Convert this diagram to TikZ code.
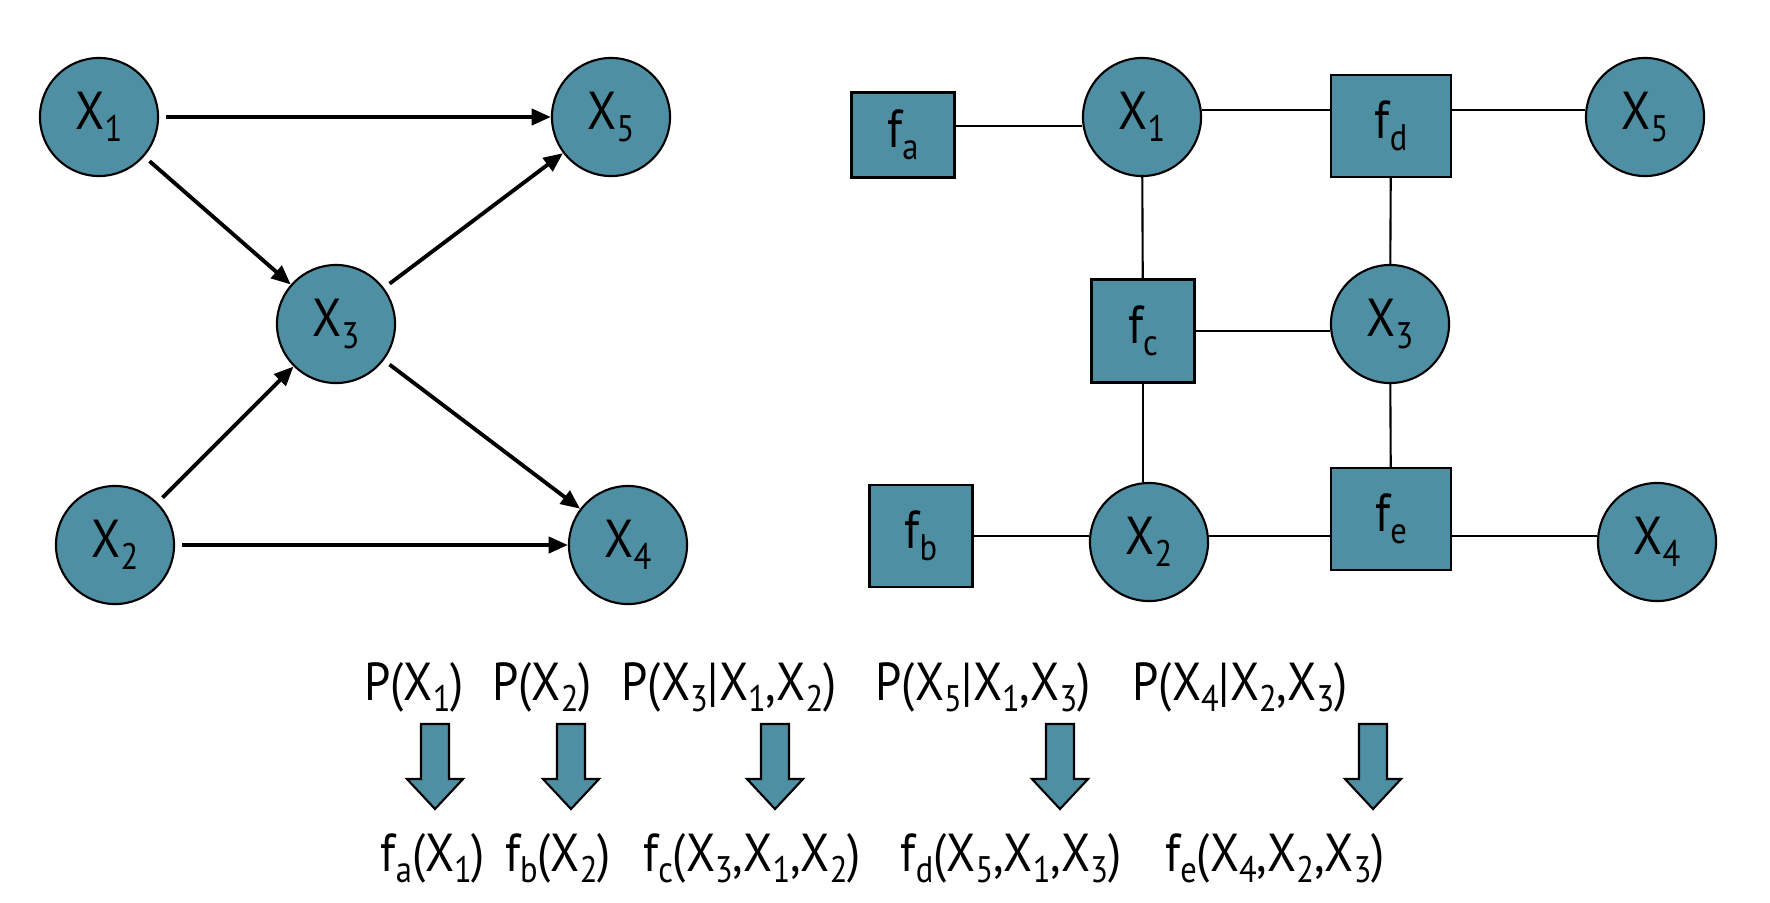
\documentclass[tikz,border=0pt]{standalone}
\usepackage{fontspec}
\setmainfont{PT Sans}[FakeStretch=0.88]
\usetikzlibrary{arrows.meta}
\definecolor{nodeblue}{RGB}{79,143,163}
\newcommand\subs[1]{\raisebox{-3.4pt}{\fontsize{10.5pt}{10pt}\selectfont #1}}
\begin{document}
\begin{tikzpicture}[x=0.01cm,y=-0.01cm,
  font=\fontsize{15.2pt}{17pt}\selectfont,
  var/.style={circle,draw=black,line width=0.6pt,fill=nodeblue,minimum size=1.18cm,inner sep=0pt},
  fac/.style={rectangle,draw=black,line width=0.6pt,fill=nodeblue,inner sep=0pt},
  arr/.style={line width=1.1pt,-{Triangle[length=5.5pt,width=4.6pt]},shorten <=2pt},
  edge/.style={line width=0.6pt},
  blockarr/.style={draw=black,line width=0.6pt,fill=nodeblue},
  lbl/.style={anchor=base,inner sep=0pt}]
\useasboundingbox (0,0) rectangle (1770,902);
% left: Bayesian network
\node[var] (L1) at (99,117) {X\subs{1}};
\node[var] (L5) at (611,117) {X\subs{5}};
\node[var] (L3) at (336,324) {X\subs{3}};
\node[var] (L2) at (115,545) {X\subs{2}};
\node[var] (L4) at (628,545) {X\subs{4}};
\draw[arr] (L1) -- (L5);
\draw[arr] (L1) -- (L3);
\draw[arr] (L2) -- (L3);
\draw[arr] (L3) -- (L5);
\draw[arr] (L3) -- (L4);
\draw[arr] (L2) -- (L4);
% right: factor graph
\node[var] (R1) at (1142,117) {X\subs{1}};
\node[var] (R5) at (1645,117) {X\subs{5}};
\node[var] (R3) at (1390,324) {X\subs{3}};
\node[var] (R2) at (1149,542) {X\subs{2}};
\node[var] (R4) at (1657,542) {X\subs{4}};
\node[fac,minimum width=1.03cm,minimum height=0.85cm] (fa) at (903,135) {f\subs{a}};
\node[fac,minimum width=1.20cm,minimum height=1.02cm] (fd) at (1391,126) {f\subs{d}};
\node[fac,minimum width=1.03cm,minimum height=1.03cm] (fc) at (1143,331) {f\subs{c}};
\node[fac,minimum width=1.03cm,minimum height=1.02cm] (fb) at (921,536) {f\subs{b}};
\node[fac,minimum width=1.20cm,minimum height=1.02cm] (fe) at (1391,519) {f\subs{e}};
\draw[edge] ([yshift=2.6pt]fa.east) -- ([yshift=2.6pt]fa.east -| R1.west);
\draw[edge] ([yshift=2.1pt]R1.east) -- ([yshift=2.1pt]R1.east -| fd.west);
\draw[edge] ([yshift=2.1pt]R1.east -| fd.east) -- ([yshift=2.1pt]R1.east -| R5.west);
\draw[edge] (fc.east) -- (fc.east -| R3.west);
\draw[edge] (fb.east) -- (fb.east -| R2.west);
\draw[edge] (fb.east -| R2.east) -- (fb.east -| fe.west);
\draw[edge] (fb.east -| fe.east) -- (fb.east -| R4.west);
\draw[edge] (R1) -- (fc);
\draw[edge] (fc.south) -- (fc.south |- R2.north);
\draw[edge] (fd) -- (R3);
\draw[edge] (R3) -- (fe);
% formulas
\node[lbl] (p1) at (414,700) {P(X\subs{1})};
\node[lbl] (p2) at (542,700) {P(X\subs{2})};
\node[lbl] (p3) at (729,700) {P(X\subs{3}|X\subs{1},X\subs{2})};
\node[lbl] (p5) at (983,700) {P(X\subs{5}|X\subs{1},X\subs{3})};
\node[lbl] (p4) at (1240,700) {P(X\subs{4}|X\subs{2},X\subs{3})};
\node[lbl] (q1) at (433,871) {f\subs{a}(X\subs{1})};
\node[lbl] (q2) at (558,871) {f\subs{b}(X\subs{2})};
\node[lbl] (q3) at (752,871) {f\subs{c}(X\subs{3},X\subs{1},X\subs{2})};
\node[lbl] (q5) at (1011,871) {f\subs{d}(X\subs{5},X\subs{1},X\subs{3})};
\node[lbl] (q4) at (1275,871) {f\subs{e}(X\subs{4},X\subs{2},X\subs{3})};
\foreach \x in {435,571,775,1060,1373}{
  \draw[blockarr] ({\x-14},724) -- ({\x+14},724) -- ({\x+14},779) -- ({\x+28},779)
    -- (\x,809) -- ({\x-28},779) -- ({\x-14},779) -- cycle;
}
\end{tikzpicture}
\end{document}
